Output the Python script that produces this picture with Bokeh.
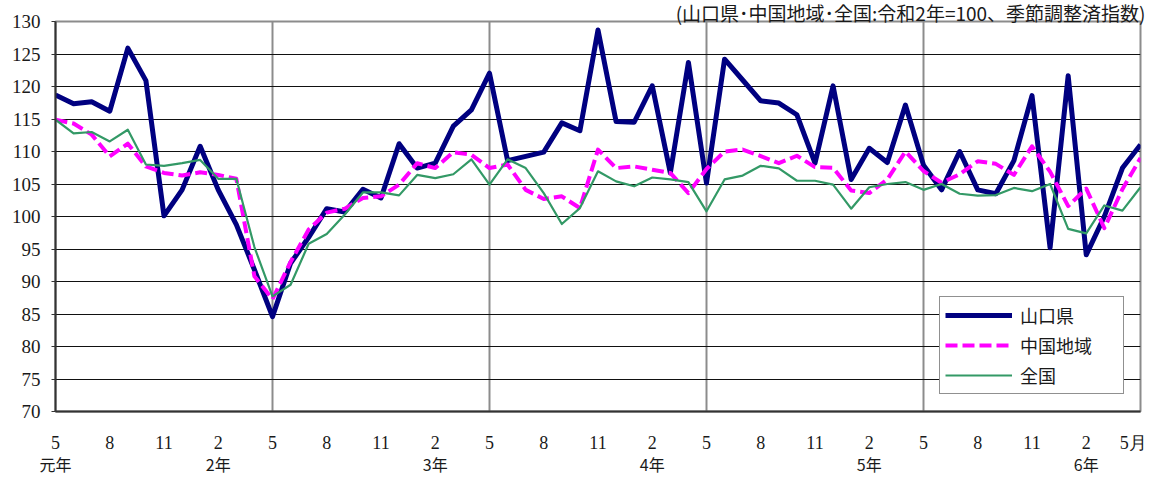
from bokeh.plotting import figure
from bokeh.models import Range1d, FixedTicker, LinearAxis, Legend, LegendItem
from bokeh.embed import file_html
from bokeh.resources import INLINE

# 令和元年5月 〜 令和6年5月 (月次, 令和2年=100, 季節調整済)
yamaguchi = [
    118.7, 117.35, 117.65, 116.2, 125.9, 120.9, 100.1, 104.1, 110.8, 104.1,
    98.75, 91.8, 84.6, 92.8, 96.8, 101.2, 100.7, 104.2, 102.85, 111.2,
    107.45, 108.2, 113.9, 116.4, 122.05, 108.6, 109.25, 109.9, 114.4, 113.2,
    128.7, 114.6, 114.5, 120.1, 106.7, 123.7, 105.15, 124.2, 121.0, 117.8,
    117.45, 115.65, 108.2, 120.1, 105.7, 110.5, 108.3, 117.15, 107.9, 104.1,
    110.0, 104.1, 103.5, 108.6, 118.6, 95.2, 121.65, 94.1, 100.0, 107.45,
    111.05,
]
chugoku = [
    114.9, 114.3, 112.6, 109.25, 111.2, 107.7, 106.7, 106.3, 106.8, 106.4,
    105.8, 90.8, 87.3, 93.0, 98.0, 100.6, 101.2, 102.85, 103.1, 104.9,
    108.2, 107.45, 109.9, 109.5, 107.45, 108.0, 104.1, 102.7, 103.1, 101.3,
    110.3, 107.45, 107.7, 107.2, 106.7, 103.6, 107.3, 110.0, 110.3, 109.3,
    108.2, 109.35, 107.6, 107.5, 104.0, 103.6, 105.7, 110.0, 107.0, 105.2,
    106.5, 108.5, 108.1, 106.4, 110.8, 106.9, 101.6, 104.3, 98.2, 104.2,
    109.0,
]
zenkoku = [
    114.9, 112.8, 113.0, 111.55, 113.35, 108.0, 107.8, 108.2, 108.7, 105.8,
    105.8, 95.3, 87.7, 89.5, 95.8, 97.3, 100.3, 103.7, 103.7, 103.25,
    106.4, 105.9, 106.5, 108.8, 104.9, 108.8, 107.45, 103.6, 98.85, 101.3,
    106.95, 105.4, 104.65, 106.0, 105.7, 105.3, 100.8, 105.7, 106.3, 107.8,
    107.4, 105.5, 105.5, 104.9, 101.2, 104.5, 105.0, 105.3, 104.1, 105.0,
    103.5, 103.2, 103.3, 104.4, 103.9, 105.0, 98.1, 97.4, 101.7, 100.9,
    104.5,
]
month_labels = ["5", "8", "11", "2", "5", "8", "11", "2", "5", "8", "11", "2",
                "5", "8", "11", "2", "5", "8", "11", "2", "5月"]
year_labels = ["元年", "2年", "3年", "4年", "5年", "6年"]
year_label_pos = [0, 9, 21, 33, 45, 57]
series_names = ["山口県", "中国地域", "全国"]
note = "(山口県･中国地域･全国:令和2年=100、季節調整済指数)"

x = list(range(len(yamaguchi)))
SERIF = "Liberation Serif"
JP = "Noto Sans CJK JP"

p = figure(width=1150, height=479, output_backend="svg", toolbar_location=None,
           x_range=Range1d(0, len(x) - 1), y_range=Range1d(70, 130),
           min_border_left=55, min_border_right=10, min_border_top=20,
           min_border_bottom=68, background_fill_color="white",
           border_fill_color="white", title=note, title_location="above")
p.outline_line_color = "#8c8c8c"
p.outline_line_width = 2

p.title.align = "right"
p.title.text_font = JP
p.title.text_font_size = "19px"
p.title.text_font_style = "normal"
p.title.text_color = "#1a1a1a"
p.title.standoff = -8
p.title.offset = -5

# y axis
p.yaxis.ticker = FixedTicker(ticks=list(range(70, 131, 5)))
p.yaxis.major_label_text_font = SERIF
p.yaxis.major_label_text_font_size = "19px"
p.yaxis.major_label_text_color = "#1a1a1a"
p.yaxis.major_tick_out = 4
p.yaxis.major_tick_in = 0
p.yaxis.minor_tick_line_color = None
p.yaxis.major_label_standoff = 11
p.yaxis.axis_line_color = "#333333"
p.yaxis.axis_line_width = 2
p.yaxis.major_tick_line_color = "#333333"

# x axis (months); the final "5月" label sits a little inside the edge
month_ticks = list(range(0, len(x), 3))
month_ticks[-1] = month_ticks[-1] - 0.4
p.xaxis.ticker = FixedTicker(ticks=month_ticks)
p.xaxis.major_label_overrides = {t: lab for t, lab in zip(month_ticks, month_labels)}
p.xaxis.major_label_text_font = SERIF
p.xaxis.major_label_text_font_size = "18px"
p.xaxis.major_label_text_color = "#1a1a1a"
p.xaxis.major_tick_out = 0
p.xaxis.major_tick_in = 0
p.xaxis.minor_tick_line_color = None
p.xaxis.major_label_standoff = 21
p.xaxis.axis_line_color = "#333333"
p.xaxis.axis_line_width = 2

# second x axis (years)
yax = LinearAxis(ticker=FixedTicker(ticks=year_label_pos),
                 major_label_overrides={t: lab for t, lab in zip(year_label_pos, year_labels)})
yax.major_label_text_font = JP
yax.major_label_text_font_size = "16px"
yax.major_label_text_color = "#1a1a1a"
yax.axis_line_color = None
yax.major_tick_line_color = None
yax.minor_tick_line_color = None
yax.major_tick_out = 0
yax.major_tick_in = 0
yax.major_label_standoff = -4
p.add_layout(yax, "below")

# grids
p.ygrid.ticker = FixedTicker(ticks=list(range(75, 130, 5)))
p.ygrid.grid_line_color = "#111111"
p.ygrid.grid_line_width = 1
p.xgrid.ticker = FixedTicker(ticks=[12, 24, 36, 48])
p.xgrid.grid_line_color = "#8c8c8c"
p.xgrid.grid_line_width = 2

r1 = p.line(x, yamaguchi, line_color="#000080", line_width=5, line_join="round")
r2 = p.line(x, chugoku, line_color="#ff00ff", line_width=4, line_dash="12 5",
            line_join="round")
r3 = p.line(x, zenkoku, line_color="#339966", line_width=2.2, line_join="round")

legend = Legend(items=[LegendItem(label=series_names[0], renderers=[r1]),
                       LegendItem(label=series_names[1], renderers=[r2]),
                       LegendItem(label=series_names[2], renderers=[r3])],
                location=(884, 17), orientation="vertical")
legend.label_text_font = JP
legend.label_text_font_size = "18px"
legend.label_text_color = "#1a1a1a"
legend.glyph_width = 67
legend.glyph_height = 22
legend.label_height = 22
legend.label_width = 98
legend.label_standoff = 8
legend.spacing = 4
legend.padding = 5
legend.margin = 0
legend.border_line_color = "#222222"
legend.border_line_width = 1
legend.background_fill_alpha = 1
p.add_layout(legend, "center")

open("out.html", "w").write(file_html(p, INLINE))
